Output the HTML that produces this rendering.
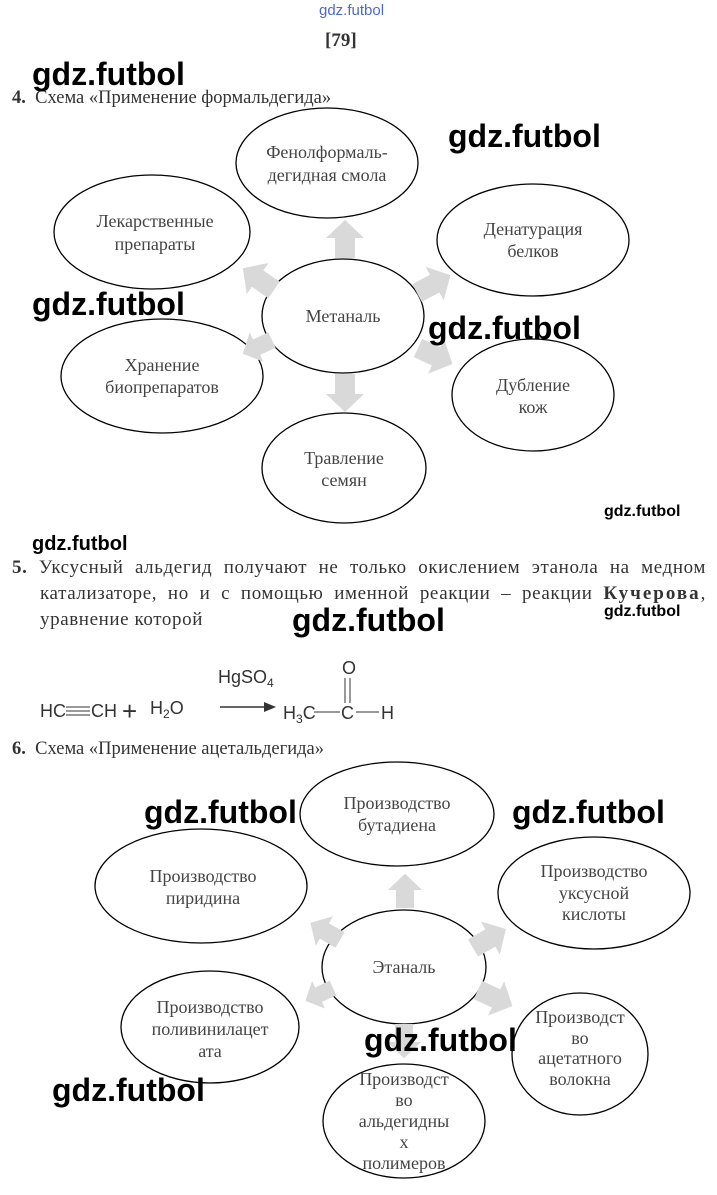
<!DOCTYPE html>
<html><head><meta charset="utf-8"><style>
body{margin:0;background:#fff;width:717px;height:1195px;overflow:hidden;position:relative;font-family:"Liberation Serif",serif;}
.a{position:absolute;white-space:nowrap}
.wm{position:absolute;font-family:"Liberation Sans",sans-serif;font-weight:bold;color:#000;font-size:32px;line-height:1}
.ws{position:absolute;font-family:"Liberation Sans",sans-serif;font-weight:bold;color:#000;font-size:16px;line-height:1}
.t{position:absolute;font-size:18.5px;color:#333;line-height:26px}
.j{position:absolute;font-size:19px;letter-spacing:0.6px;color:#333;line-height:26px;text-align:justify;text-align-last:justify;white-space:nowrap}
</style></head><body>
<svg width="717" height="1195" style="position:absolute;left:0;top:0" font-family="Liberation Serif, serif" font-size="18" fill="#444">
<defs><path id="ar" d="M0,-10 L20,-10 L20,-19 L38,0 L20,19 L20,10 L0,10 Z" fill="#d9d9d9"/></defs>
<g fill="none" stroke="#000" stroke-width="1.3">
<ellipse cx="327" cy="163" rx="91" ry="55"/>
<ellipse cx="152" cy="232" rx="98" ry="57"/>
<ellipse cx="533" cy="240" rx="96" ry="56"/>
<ellipse cx="343" cy="316" rx="81" ry="57"/>
<ellipse cx="162" cy="376" rx="101" ry="57"/>
<ellipse cx="533" cy="395" rx="81" ry="56"/>
<ellipse cx="344" cy="468" rx="82" ry="55"/>
<ellipse cx="397" cy="814" rx="97" ry="52"/>
<ellipse cx="201" cy="886" rx="106" ry="57"/>
<ellipse cx="594" cy="893" rx="96" ry="56"/>
<ellipse cx="404" cy="967" rx="82" ry="57"/>
<ellipse cx="210" cy="1027" rx="89" ry="56"/>
<ellipse cx="580" cy="1054" rx="68" ry="61"/>
<ellipse cx="404" cy="1121" rx="81" ry="57"/>
</g>
<use href="#ar" transform="translate(345,258) rotate(-90)"/>
<use href="#ar" transform="translate(274,290) rotate(-145)"/>
<use href="#ar" transform="translate(417,293) rotate(-28)"/>
<use href="#ar" transform="translate(272,340) rotate(155) scale(0.85)"/>
<use href="#ar" transform="translate(418,348) rotate(25)"/>
<use href="#ar" transform="translate(345,374) rotate(90)"/>
<use href="#ar" transform="translate(405,908) rotate(-90) scale(0.9)"/>
<use href="#ar" transform="translate(340,940) rotate(-150) scale(0.9)"/>
<use href="#ar" transform="translate(473,948) rotate(-30)"/>
<use href="#ar" transform="translate(333,988) rotate(155) scale(0.8)"/>
<use href="#ar" transform="translate(478,990) rotate(25)"/>
<use href="#ar" transform="translate(404,1024) rotate(90) scale(0.9)"/>
<g text-anchor="middle">
<text x="327" y="158">Фенолформаль-</text><text x="327" y="181">дегидная смола</text>
<text x="155" y="227">Лекарственные</text><text x="155" y="250">препараты</text>
<text x="533" y="235">Денатурация</text><text x="533" y="257">белков</text>
<text x="343" y="322">Метаналь</text>
<text x="162" y="371">Хранение</text><text x="162" y="393">биопрепаратов</text>
<text x="533" y="391">Дубление</text><text x="533" y="413">кож</text>
<text x="344" y="464">Травление</text><text x="344" y="486">семян</text>
<text x="397" y="809">Производство</text><text x="397" y="831">бутадиена</text>
<text x="203" y="882">Производство</text><text x="203" y="904">пиридина</text>
<text x="594" y="877">Производство</text><text x="594" y="899">уксусной</text><text x="594" y="920">кислоты</text>
<text x="404" y="973">Этаналь</text>
<text x="210" y="1013">Производство</text><text x="210" y="1035">поливинилацет</text><text x="210" y="1057">ата</text>
<text x="580" y="1023">Производст</text><text x="580" y="1044">во</text><text x="580" y="1064">ацетатного</text><text x="580" y="1085">волокна</text>
<text x="404" y="1085">Производст</text><text x="404" y="1106">во</text><text x="404" y="1127">альдегидны</text><text x="404" y="1148">х</text><text x="404" y="1169">полимеров</text>
</g>
<g font-family="Liberation Sans, sans-serif" fill="#333" font-size="18">
<text x="40" y="717">HC</text><line x1="66" y1="707" x2="90" y2="707" stroke="#333"/><line x1="66" y1="711" x2="90" y2="711" stroke="#333"/><line x1="66" y1="715" x2="90" y2="715" stroke="#333"/><text x="91" y="717">CH</text>
<text x="122" y="720" font-size="26">+</text>
<text x="150" y="714">H<tspan font-size="12" dy="4">2</tspan><tspan dy="-4">O</tspan></text>
<text x="218" y="683">HgSO<tspan font-size="12" dy="4">4</tspan></text>
<line x1="220" y1="707" x2="266" y2="707" stroke="#333" stroke-width="1.5"/><path d="M264,702 L276,707 L264,712Z" fill="#333"/>
<text x="283" y="719">H<tspan font-size="12" dy="4">3</tspan><tspan dy="-4">C</tspan></text>
<line x1="314" y1="712" x2="340" y2="712" stroke="#333"/>
<text x="341" y="719">C</text>
<line x1="356" y1="712" x2="379" y2="712" stroke="#333"/>
<text x="381" y="719">H</text>
<text x="342" y="674">O</text>
<line x1="345" y1="678" x2="345" y2="703" stroke="#333"/><line x1="350" y1="678" x2="350" y2="703" stroke="#333"/>
</g>
</svg>
<div class="a" style="left:319px;top:2px;font-family:'Liberation Sans',sans-serif;font-size:15px;color:#4a6ad0">gdz.futbol</div>
<div class="a" style="left:325px;top:30px;font-size:19px;font-weight:bold;color:#333">[79]</div>
<div class="a t" style="left:12px;top:85px"><b>4.</b>&nbsp; Схема «Применение формальдегида»</div>
<div class="j" style="left:12px;top:555px;width:694px"><b>5.</b>&nbsp;Уксусный альдегид получают не только окислением этанола на медном</div>
<div class="j" style="left:40px;top:581px;width:666px">катализаторе, но и с помощью именной реакции – реакции <b style="letter-spacing:2px">Кучерова</b>,</div>
<div class="a t" style="left:40px;top:607px;font-size:19px;letter-spacing:0.6px">уравнение которой</div>
<div class="a t" style="left:12px;top:736px"><b>6.</b>&nbsp; Схема «Применение ацетальдегида»</div>
<div class="wm" style="left:32px;top:58px">gdz.futbol</div>
<div class="wm" style="left:448px;top:120px">gdz.futbol</div>
<div class="wm" style="left:32px;top:288px">gdz.futbol</div>
<div class="wm" style="left:428px;top:312px">gdz.futbol</div>
<div class="ws" style="left:604px;top:504px">gdz.futbol</div>
<div class="ws" style="left:32px;top:534px;font-size:20px">gdz.futbol</div>
<div class="ws" style="left:604px;top:604px">gdz.futbol</div>
<div class="wm" style="left:292px;top:604px">gdz.futbol</div>
<div class="wm" style="left:144px;top:796px">gdz.futbol</div>
<div class="wm" style="left:512px;top:796px">gdz.futbol</div>
<div class="wm" style="left:364px;top:1024px">gdz.futbol</div>
<div class="wm" style="left:52px;top:1074px">gdz.futbol</div>
</body></html>
